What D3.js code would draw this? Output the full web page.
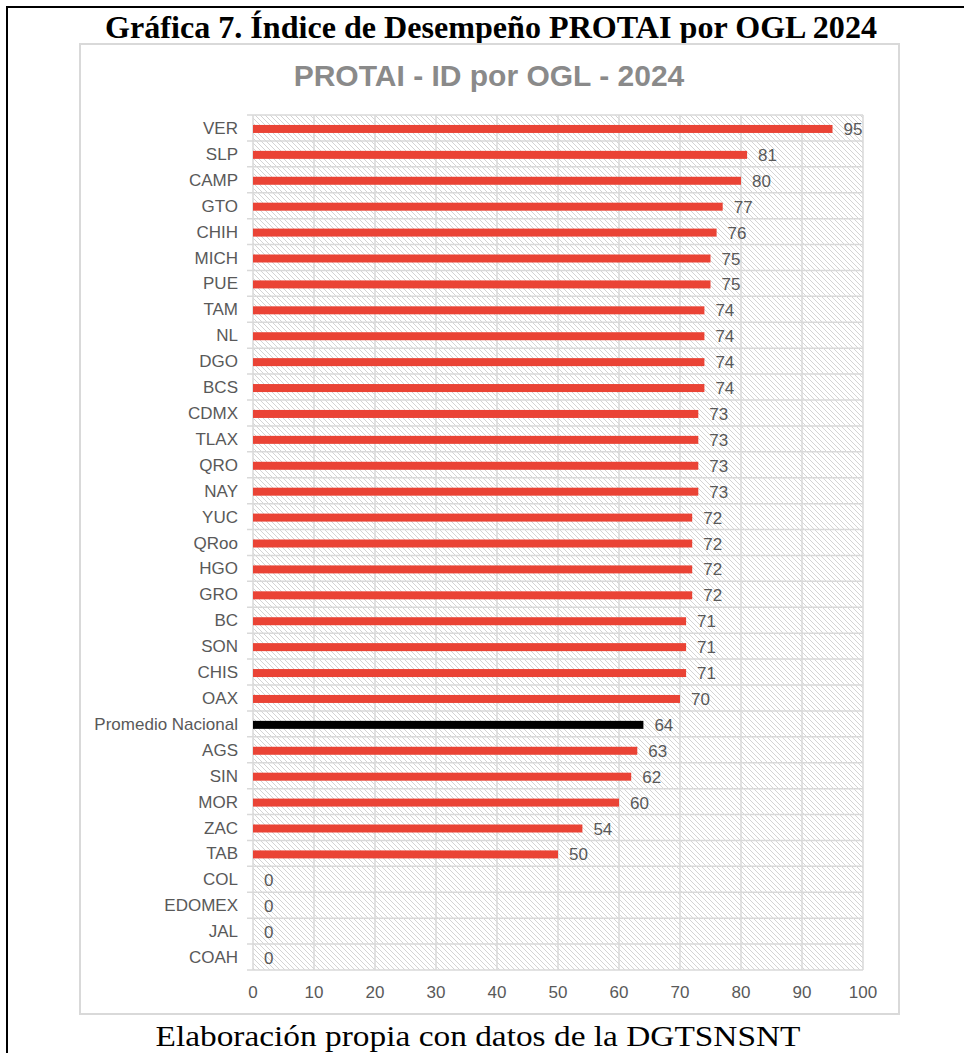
<!DOCTYPE html>
<html>
<head>
<meta charset="utf-8">
<script src="https://cdn.jsdelivr.net/npm/d3@7"></script>
<style>
  body { margin: 0; background: #fff; }
  svg { display: block; }
</style>
</head>
<body>
<script>
var width = 964;
var height = 1053;

var categories = ["VER", "SLP", "CAMP", "GTO", "CHIH", "MICH", "PUE", "TAM", "NL", "DGO", "BCS",
  "CDMX", "TLAX", "QRO", "NAY", "YUC", "QRoo", "HGO", "GRO", "BC", "SON", "CHIS", "OAX",
  "Promedio Nacional", "AGS", "SIN", "MOR", "ZAC", "TAB", "COL", "EDOMEX", "JAL", "COAH"];
var values = [95, 81, 80, 77, 76, 75, 75, 74, 74, 74, 74,
  73, 73, 73, 73, 72, 72, 72, 72, 71, 71, 71, 70,
  64, 63, 62, 60, 54, 50, 0, 0, 0, 0];
var xTicks = [0, 10, 20, 30, 40, 50, 60, 70, 80, 90, 100];
var highlight = "Promedio Nacional";

var title = "Gráfica 7. Índice de Desempeño PROTAI por OGL 2024";
var chartTitle = "PROTAI - ID por OGL - 2024";
var footer = "Elaboración propia con datos de la DGTSNSNT";

var data = categories.map(function(c, i) { return {name: c, value: values[i]}; });

var svg = d3.select("body").append("svg")
  .attr("width", width)
  .attr("height", height);

// hatch pattern for plot background
var defs = svg.append("defs");
var pat = defs.append("pattern")
  .attr("id", "hatch")
  .attr("patternUnits", "userSpaceOnUse")
  .attr("width", 5)
  .attr("height", 5);
pat.append("rect").attr("width", 5).attr("height", 5).attr("fill", "#fff");
pat.append("path")
  .attr("d", "M-1,-1L6,6M-1,4L1,6M4,-1L6,1")
  .attr("stroke", "#cfcfcf")
  .attr("stroke-width", 0.9);

// outer black frame (top + left)
svg.append("line").attr("x1", 7).attr("x2", width).attr("y1", 7).attr("y2", 7)
  .attr("stroke", "#000").attr("stroke-width", 2);
svg.append("line").attr("x1", 7).attr("x2", 7).attr("y1", 6).attr("y2", height)
  .attr("stroke", "#000").attr("stroke-width", 2);

// page title
svg.append("text")
  .attr("x", 491).attr("y", 38)
  .attr("text-anchor", "middle")
  .attr("font-family", "'Liberation Serif', 'Times New Roman', serif")
  .attr("font-weight", "bold")
  .attr("font-size", 31)
  .attr("textLength", 772)
  .attr("lengthAdjust", "spacingAndGlyphs")
  .text(title);

// chart box
svg.append("rect")
  .attr("x", 80).attr("y", 44)
  .attr("width", 819).attr("height", 970)
  .attr("fill", "#fff")
  .attr("stroke", "#d9d9d9")
  .attr("stroke-width", 2);

svg.append("text")
  .attr("x", 489).attr("y", 86)
  .attr("text-anchor", "middle")
  .attr("font-family", "'Liberation Sans', Arial, sans-serif")
  .attr("font-weight", "bold")
  .attr("font-size", 30)
  .attr("fill", "#8a8a8a")
  .text(chartTitle);

var x = d3.scaleLinear().domain([0, 100]).range([253, 863]);
var y = d3.scaleBand().domain(categories).range([115, 970]).padding(0);

var g = svg.append("g");

g.append("rect")
  .attr("x", x(0)).attr("y", y.range()[0])
  .attr("width", x(100) - x(0))
  .attr("height", y.range()[1] - y.range()[0])
  .attr("fill", "url(#hatch)");

// vertical gridlines
g.selectAll(".vgrid").data(xTicks).enter().append("line")
  .attr("x1", function(d) { return x(d); })
  .attr("x2", function(d) { return x(d); })
  .attr("y1", y.range()[0]).attr("y2", y.range()[1])
  .attr("stroke", "#d9d9d9").attr("stroke-width", 1.5);

// horizontal gridlines with small left ticks
var bounds = categories.map(function(c) { return y(c); }).concat([y.range()[1]]);
g.selectAll(".hgrid").data(bounds).enter().append("line")
  .attr("x1", x(0) - 6).attr("x2", x(100))
  .attr("y1", function(d) { return d; })
  .attr("y2", function(d) { return d; })
  .attr("stroke", "#d9d9d9").attr("stroke-width", 1.5);

var barH = 8;

g.selectAll(".bar").data(data).enter().append("rect")
  .attr("x", x(0))
  .attr("y", function(d) { return y(d.name) + y.bandwidth() / 2 - barH / 2 + 1; })
  .attr("width", function(d) { return x(d.value) - x(0); })
  .attr("height", barH)
  .attr("fill", function(d) { return d.name === highlight ? "#000" : "#ea4335"; });

g.selectAll(".val").data(data).enter().append("text")
  .attr("x", function(d) { return x(d.value) + 11; })
  .attr("y", function(d) { return y(d.name) + y.bandwidth() / 2 + 7; })
  .attr("font-family", "'Liberation Sans', Arial, sans-serif")
  .attr("font-size", 17)
  .attr("fill", "#595959")
  .text(function(d) { return d.value; });

g.selectAll(".cat").data(data).enter().append("text")
  .attr("x", 238)
  .attr("y", function(d) { return y(d.name) + y.bandwidth() / 2 + 6; })
  .attr("text-anchor", "end")
  .attr("font-family", "'Liberation Sans', Arial, sans-serif")
  .attr("font-size", 17)
  .attr("fill", "#595959")
  .text(function(d) { return d.name; });

g.selectAll(".xt").data(xTicks).enter().append("text")
  .attr("x", function(d) { return x(d); })
  .attr("y", 998)
  .attr("text-anchor", "middle")
  .attr("font-family", "'Liberation Sans', Arial, sans-serif")
  .attr("font-size", 17)
  .attr("fill", "#595959")
  .text(function(d) { return d; });

// footer
svg.append("text")
  .attr("x", 478).attr("y", 1046)
  .attr("text-anchor", "middle")
  .attr("font-family", "'Liberation Serif', 'Times New Roman', serif")
  .attr("font-size", 29)
  .attr("textLength", 645)
  .attr("lengthAdjust", "spacingAndGlyphs")
  .text(footer);
</script>
</body>
</html>
